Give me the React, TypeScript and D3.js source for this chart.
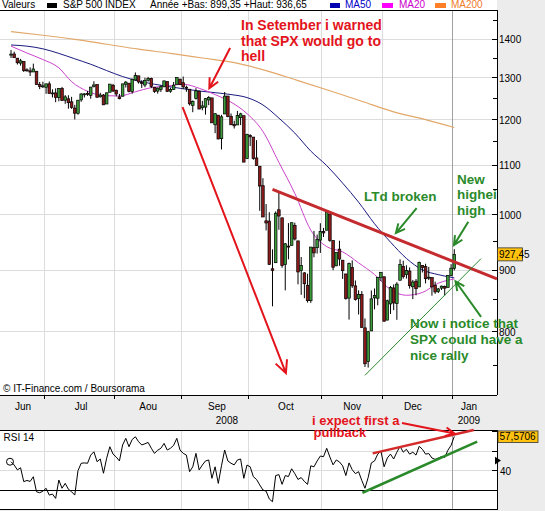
import React from 'react';
import * as d3 from 'd3';

// ---------- DATA (S&P 500 daily, 16 Jun 2008 .. 2 Jan 2009) ----------
const opens = [1358.5,1360.5,1349.6,1336.9,1341.0,1319.8,1317.2,1314.5,1316.3,1283.6,1278.1,1276.7,1285.0,1262.9,1262.9,1251.8,1273.4,1245.3,1248.7,1241.6,1226.8,1214.7,1246.3,1258.2,1261.8,1257.1,1278.9,1283.2,1253.5,1257.8,1236.4,1264.5,1281.4,1269.4,1253.3,1254.9,1284.0,1286.5,1266.3,1294.4,1304.8,1288.6,1282.1,1293.9,1298.1,1276.7,1267.3,1271.1,1277.6,1290.5,1267.0,1271.3,1283.8,1296.5,1287.8,1276.6,1271.8,1233.2,1249.5,1267.0,1227.5,1229.0,1245.9,1250.9,1188.3,1210.3,1157.1,1213.1,1255.4,1207.6,1188.8,1187.9,1204.5,1209.1,1113.8,1164.2,1160.6,1115.2,1097.6,1057.6,988.9,988.4,902.3,912.8,1010.0,994.6,909.5,942.3,943.5,980.4,951.7,899.1,895.2,874.3,848.9,939.5,939.4,953.1,968.7,971.3,1001.8,952.4,907.4,936.8,917.2,893.4,853.1,904.4,873.2,852.3,859.0,805.9,755.8,801.2,853.4,852.9,886.9,888.6,817.9,843.6,869.8,844.4,882.7,906.5,892.2,898.4,871.8,881.1,871.5,908.2,906.0,887.0,887.2,874.3,863.9,869.5,872.4,870.6,890.6,903.0];
const highs = [1370.6,1366.6,1349.6,1347.7,1341.0,1323.8,1326.0,1335.6,1316.3,1289.5,1290.3,1285.3,1290.7,1271.5,1273.9,1274.2,1277.4,1257.7,1257.3,1253.5,1234.4,1246.0,1262.3,1262.2,1267.7,1277.4,1291.2,1283.2,1263.2,1260.1,1263.2,1284.3,1284.9,1270.5,1260.5,1284.9,1291.7,1286.5,1297.9,1313.2,1304.8,1294.0,1300.1,1302.2,1300.2,1276.7,1276.0,1281.5,1293.1,1290.5,1275.7,1289.6,1300.7,1297.6,1303.0,1280.6,1271.8,1244.9,1274.4,1268.7,1243.9,1250.0,1255.1,1250.9,1214.8,1210.3,1211.1,1265.1,1255.4,1214.1,1197.4,1220.0,1215.8,1209.1,1168.0,1167.0,1160.6,1153.8,1097.6,1072.9,1021.1,1005.3,936.4,1006.9,1044.3,994.6,947.7,984.6,985.4,985.4,951.7,922.8,896.3,893.8,940.5,970.0,963.2,984.4,975.6,1007.5,1001.8,952.4,931.5,952.0,917.2,893.4,913.0,916.9,882.3,865.9,864.6,820.5,801.2,865.6,868.9,887.7,896.3,888.6,850.5,873.1,875.6,879.4,918.6,916.3,908.3,904.6,883.2,884.6,914.7,908.2,911.0,905.5,887.4,880.4,869.8,873.7,873.7,891.1,910.3,936.65];
const lows = [1350.1,1350.5,1333.4,1330.4,1314.5,1315.3,1304.4,1314.5,1283.1,1272.0,1274.9,1260.7,1261.5,1252.0,1240.7,1242.8,1244.6,1236.8,1225.4,1225.0,1200.4,1211.4,1241.5,1251.8,1255.7,1248.8,1276.1,1251.5,1251.8,1234.4,1236.4,1264.5,1265.1,1254.5,1247.5,1254.7,1276.0,1264.3,1261.1,1292.8,1285.6,1274.9,1276.8,1290.7,1274.5,1263.1,1261.2,1265.2,1277.6,1264.9,1263.2,1270.2,1283.8,1282.7,1272.2,1265.6,1232.8,1217.2,1247.1,1224.5,1221.6,1211.5,1233.8,1192.7,1169.3,1155.9,1133.5,1213.1,1205.6,1187.8,1179.8,1187.9,1187.5,1106.4,1113.8,1140.8,1111.4,1098.1,1008.0,996.2,971.0,909.2,839.8,912.8,972.1,904.0,865.8,918.7,943.5,952.5,875.8,858.4,852.9,845.8,845.3,922.3,928.9,930.0,958.8,971.3,949.9,899.7,906.9,907.5,884.9,850.5,818.7,869.9,849.0,826.8,806.2,747.8,747.0,801.2,835.0,841.4,881.2,815.7,817.9,827.6,833.6,818.4,882.7,885.4,885.5,868.7,851.4,857.7,871.5,895.9,877.4,883.0,857.1,860.1,861.4,866.5,857.1,870.6,889.4,899.35];
const closes = [1360.1,1350.9,1337.8,1342.8,1317.9,1318.0,1314.3,1322.0,1283.2,1278.4,1280.0,1284.9,1261.5,1262.9,1252.3,1273.7,1244.7,1253.4,1239.5,1228.3,1214.9,1245.4,1260.3,1260.7,1260.0,1277.0,1282.2,1252.5,1257.8,1234.4,1263.2,1284.3,1267.4,1260.3,1249.0,1284.9,1289.2,1266.1,1296.3,1305.3,1289.6,1285.8,1292.9,1298.2,1278.6,1266.7,1274.5,1277.7,1292.2,1266.8,1271.5,1281.7,1300.7,1282.8,1277.6,1275.0,1236.8,1242.3,1267.8,1224.5,1232.0,1249.1,1251.7,1192.7,1213.6,1156.4,1206.5,1255.1,1207.1,1188.2,1185.9,1209.2,1213.3,1106.4,1166.4,1161.1,1114.3,1099.2,1056.9,996.2,984.9,909.9,899.2,1003.4,998.0,907.8,946.4,940.6,985.4,955.1,896.8,908.1,876.8,848.9,940.5,930.1,954.1,968.8,966.3,1005.8,952.8,904.9,931.0,919.2,899.0,852.3,911.3,873.3,850.8,859.1,806.6,752.4,800.0,851.8,857.4,887.7,896.2,816.2,848.8,870.7,845.2,876.1,909.7,888.7,899.2,873.6,879.7,868.6,913.2,904.4,885.3,887.9,871.6,863.2,868.2,872.8,869.4,890.6,903.3,927.45];

const rsi14 = [44.6,42.9,40.4,41.5,34.4,35.0,34.5,36.9,29.2,28.7,29.5,31.0,27.5,28.0,25.8,35.2,31.0,33.5,30.5,29.2,27.5,40.0,43.8,44.0,43.8,48.0,49.7,44.6,46.0,38.7,46.4,52.3,48.5,47.0,45.0,53.2,56.6,52.3,56.0,57.4,54.9,53.2,53.8,54.5,51.5,48.9,50.5,51.5,54.0,50.6,51.5,53.0,56.6,50.6,48.9,48.0,39.5,42.0,48.9,40.4,42.9,45.0,45.5,36.1,42.0,33.5,42.5,50.6,45.0,43.8,43.0,45.5,46.0,36.1,42.9,42.0,36.9,35.5,32.7,30.1,29.5,25.5,24.1,37.5,38.0,33.0,37.5,37.0,41.0,38.5,35.5,36.5,34.5,33.0,42.5,42.0,45.0,47.5,47.2,51.5,47.0,43.0,45.5,44.5,42.5,37.5,44.0,40.5,38.5,39.5,35.0,31.0,36.5,44.0,45.0,48.5,50.0,42.0,46.5,48.5,46.0,49.5,52.5,49.5,51.0,48.5,49.5,48.0,52.5,51.0,48.5,48.8,46.5,45.8,46.5,47.2,46.8,50.5,53.0,57.5706];

// moving averages read at sample days (trading-day index)
const ma20Idx = [0,5,10,15,19,24,29,34,39,44,49,54,59,64,69,74,79,84,89,94,99,104,109,114,119,124,129,134,139];
const ma20Val = [1381,1363,1346,1325,1290.3,1266.9,1256.3,1255.5,1265.6,1275.8,1279.5,1284.0,1274.2,1258.9,1240.7,1214.0,1173.1,1105.9,1042.0,971.5,941.3,931.9,912.5,892.4,867.1,857.7,862.3,877.7,884.9];
const ma50Idx = [0,5,10,15,20,25,30,35,40,45,49,54,59,64,69,74,79,84,89,94,99,104,109,114,119,124,129,134,139];
const ma50Val = [1384,1381,1374,1362,1348,1334,1318,1303,1292,1284,1278.8,1272.9,1267.5,1263.5,1258.9,1251.7,1234.2,1203.6,1169.5,1130.0,1099.0,1062.8,1024.8,983.4,949.5,920.3,900.5,892.2,886.7];
const ma200Idx = [0,10,20,30,40,50,60,70,80,90,100,110,120,130,139];
const ma200Val = [1420,1410,1399,1386,1373,1362,1350,1338,1318,1293,1268,1243,1218,1200,1182];

// axis
const priceTicks = [800,900,1000,1100,1200,1300,1400];
const priceMinor = [750,850,950,1050,1150,1250,1350,1450];
const monthStartIdx = [11,33,54,75,98,117,139];
const monthLabels = ['Jun','Jul','Aou','Sep','Oct','Nov','Dec','Jan'];
const monthLabelIdx = [3.8,22,43,64.6,86.2,107,126,143.6];
const yearLabels = ['2008','2009'];
const yearLabelIdx = [67.7,143.6];
const rsiTicks = [60,50,40];

// trend lines drawn by the author (index, value)
const ltdLine = [[82,1050],[152.4,885]];
const supportLine = [[111,736],[147.4,920]];
const bigArrow = [[53.8,1229],[86.2,739]];
const warnArrow = [[68.7,1376],[62.2,1274]];
const ltdArrow = [[127.2,1013],[120.7,966]];
const newHighArrow = [[143.4,987],[138.9,944]];
const rallyArrow = [[147.4,823],[139.4,881]];
const rsiRedLine = [[113.4,48.9],[145.1,60.9]];
const rsiGreenLine = [[110.2,28.7],[146.2,54.9]];

const FONT = "'Liberation Sans', Arial, Helvetica, sans-serif";
const RED = '#e3141b';
const GREEN = '#2a8a2a';

function arrowPath(x1: number, y1: number, x2: number, y2: number, head = 10, ang = 0.45) {
  const a = Math.atan2(y2 - y1, x2 - x1);
  const p1 = [x2 - head * Math.cos(a - ang), y2 - head * Math.sin(a - ang)];
  const p2 = [x2 - head * Math.cos(a + ang), y2 - head * Math.sin(a + ang)];
  return `M${x1},${y1}L${x2},${y2}M${p1[0]},${p1[1]}L${x2},${y2}L${p2[0]},${p2[1]}`;
}

export default function App() {
  const W = 545, H = 511;
  const R = 497, PT = 10, PB = 395, RT = 430, RB = 509.5;
  const n = closes.length;
  const x = d3.scaleLinear().domain([0, n - 1]).range([11, 11 + (n - 1) * 3.189]);
  const y = d3.scaleLog().domain([800, 1400]).range([331.7, 39]);
  const yr = d3.scaleLinear().domain([20, 60]).range([509.7, 431.7]);

  const maLine = (idx: number[], val: number[]) =>
    d3.line<number>().x((_, i) => x(idx[i])).y((v) => y(v)).curve(d3.curveMonotoneX)(val) || '';
  const rsiPath = d3.line<number>().x((_, i) => x(i)).y((v) => yr(v))(rsi14) || '';
  const grid = monthStartIdx.map((m) => x(m - 0.5));
  const P = (p: number[]) => [x(p[0]), y(p[1])];
  const PR = (p: number[]) => [x(p[0]), yr(p[1])];
  const seg = (a: number[][], f: (p: number[]) => number[]) => {
    const s = f(a[0]), e = f(a[1]);
    return `M${s[0]},${s[1]}L${e[0]},${e[1]}`;
  };
  const arr = (a: number[][], head = 10) => {
    const s = P(a[0]), e = P(a[1]);
    return arrowPath(s[0], s[1], e[0], e[1], head);
  };

  const txt = { fontFamily: FONT, fontSize: 10, fill: '#000' } as const;
  const boldR = { fontFamily: FONT, fontSize: 14, fontWeight: 700, fill: RED } as const;
  const boldG = { fontFamily: FONT, fontSize: 13.5, fontWeight: 700, fill: GREEN } as const;

  return (
    <svg width={W} height={H} style={{ position: 'fixed', left: 0, top: 0, background: '#ececec' }}>
      <defs>
        <clipPath id="pclip"><rect x={0} y={PT} width={R} height={PB - PT} /></clipPath>
        <clipPath id="rclip"><rect x={0} y={RT} width={R} height={RB - RT} /></clipPath>
      </defs>
      <rect x={0} y={0} width={W} height={H} fill="#ececec" />
      <rect x={0} y={0} width={R} height={PB} fill="#fff" />
      <rect x={0} y={RT} width={R} height={RB - RT} fill="#fff" />

      {/* header */}
      <g style={txt}>
        <text x={2} y={8}>Valeurs</text>
        <rect x={47} y={3} width={10} height={5} fill="#000" />
        <text x={63} y={8}>S&amp;P 500 INDEX</text>
        <text x={150} y={8}>Année +Bas: 899,35 +Haut: 936,65</text>
        <rect x={330} y={3} width={10} height={5} fill="#0000b0" />
        <text x={345} y={8} fill="#0000c8">MA50</text>
        <rect x={382} y={3} width={11} height={5} fill="#ff00ff" />
        <text x={399} y={8} fill="#cc00cc">MA20</text>
        <rect x={435} y={3} width={11} height={5} fill="#ff7f27" />
        <text x={451} y={8} fill="#f07c2c">MA200</text>
      </g>

      {/* price grid */}
      <g stroke="#dcdcdc" strokeWidth={1} shapeRendering="crispEdges">
        {priceTicks.map((t) => <line key={t} x1={0} x2={R} y1={y(t)} y2={y(t)} />)}
        {grid.map((g, i) => (
          <line key={i} x1={g} x2={g} y1={PT} y2={PB} stroke={i === grid.length - 1 ? '#a0a0a0' : '#dcdcdc'} />
        ))}
      </g>

      {/* moving averages and candles */}
      <g clipPath="url(#pclip)">
        <path d={maLine(ma200Idx, ma200Val)} fill="none" stroke="#e2a86a" strokeWidth={1.2} />
        <path d={maLine(ma50Idx, ma50Val)} fill="none" stroke="#1a1a80" strokeWidth={1} />
        <path d={maLine(ma20Idx, ma20Val)} fill="none" stroke="#cc44cc" strokeWidth={1} />
        {closes.map((c, i) => {
          const o = opens[i];
          const up = c >= o;
          const top = y(Math.max(o, c));
          const bot = y(Math.min(o, c));
          return (
            <g key={i}>
              <line x1={x(i)} x2={x(i)} y1={y(highs[i])} y2={y(lows[i])} stroke="#000" strokeWidth={1} />
              <rect x={x(i) - 1.3} y={top} width={2.6} height={Math.max(1, bot - top)}
                fill={up ? '#3b9b3b' : '#8b1a1a'} stroke="#000" strokeWidth={0.7} />
            </g>
          );
        })}
      </g>

      {/* price axis */}
      <line x1={0} x2={R} y1={PT} y2={PT} stroke="#000" strokeWidth={1} shapeRendering="crispEdges" />
      <line x1={0} x2={R} y1={PB} y2={PB} stroke="#000" strokeWidth={1} shapeRendering="crispEdges" />
      <line x1={R} x2={R} y1={PT} y2={PB} stroke="#000" strokeWidth={1} shapeRendering="crispEdges" />
      <g stroke="#000" shapeRendering="crispEdges">
        {priceTicks.map((t) => <line key={t} x1={R - 5} x2={R} y1={y(t)} y2={y(t)} />)}
        {priceMinor.map((t) => <line key={t} x1={R - 4} x2={R} y1={y(t)} y2={y(t)} />)}
        {grid.map((g, i) => <line key={i} x1={g} x2={g} y1={PB} y2={PB + 4} />)}
      </g>
      <g style={txt}>
        {priceTicks.map((t) => <text key={t} x={R + 2} y={y(t) + 4}>{t}</text>)}
        {monthLabels.map((m, i) => <text key={m} x={x(monthLabelIdx[i])} y={410} textAnchor="middle">{m}</text>)}
        {yearLabels.map((m, i) => <text key={m} x={x(yearLabelIdx[i])} y={423.5} textAnchor="middle">{m}</text>)}
        <text x={3} y={392}>© IT-Finance.com / Boursorama</text>
      </g>
      <rect x={R + 0.5} y={y(closes[n - 1]) - 6.5} width={25} height={13} fill="#ffc20e" stroke="#333" strokeWidth={0.8} />
      <text x={R + 2} y={y(closes[n - 1]) + 3.5} style={txt}>{closes[n - 1].toFixed(2).replace('.', ',')}</text>

      {/* RSI panel */}
      <g stroke="#dcdcdc" shapeRendering="crispEdges">
        {[40, 50].map((t) => <line key={t} x1={0} x2={R} y1={yr(t)} y2={yr(t)} />)}
        {grid.map((g, i) => (
          <line key={i} x1={g} x2={g} y1={RT} y2={RB} stroke={i === grid.length - 1 ? '#a0a0a0' : '#dcdcdc'} />
        ))}
      </g>
      <line x1={0} x2={R} y1={yr(30)} y2={yr(30)} stroke="#000" strokeWidth={1} shapeRendering="crispEdges" />
      <g clipPath="url(#rclip)">
        <path d={rsiPath} fill="none" stroke="#000" strokeWidth={1} />
      </g>
      <circle cx={x(0) - 1} cy={yr(rsi14[0])} r={3.5} fill="none" stroke="#000" strokeWidth={1} />
      <line x1={0} x2={R} y1={RT} y2={RT} stroke="#000" shapeRendering="crispEdges" />
      <line x1={0} x2={R} y1={RB} y2={RB} stroke="#000" shapeRendering="crispEdges" />
      <line x1={R} x2={R} y1={RT} y2={RB} stroke="#000" shapeRendering="crispEdges" />
      <g stroke="#000" shapeRendering="crispEdges">
        {rsiTicks.map((t) => <line key={t} x1={R - 5} x2={R} y1={yr(t)} y2={yr(t)} />)}
      </g>
      <path d={`M${R - 2},${yr(47.2)}L${R + 4},${yr(45.2)}L${R - 2},${yr(43.2)}Z`} fill="#000" />
      <text x={R + 3} y={yr(40) + 4} style={txt}>40</text>
      <text x={3.5} y={441} style={txt}>RSI 14</text>
      <rect x={R + 1} y={yr(rsi14[n - 1]) - 5.5} width={40} height={11.5} fill="#ffc20e" stroke="#333" strokeWidth={0.8} />
      <text x={R + 2.5} y={yr(rsi14[n - 1]) + 4} style={txt}>{rsi14[n - 1].toFixed(4).replace('.', ',')}</text>

      {/* author annotations - price */}
      <path d={seg(ltdLine, P)} stroke="#c42a2e" strokeWidth={3} fill="none" />
      <path d={seg(supportLine, P)} stroke={GREEN} strokeWidth={1} fill="none" />
      <path d={arr(bigArrow, 14)} stroke={RED} strokeWidth={2} fill="none" />
      <path d={arr(warnArrow, 11)} stroke={RED} strokeWidth={2} fill="none" />
      <path d={arr(ltdArrow, 10)} stroke={GREEN} strokeWidth={2} fill="none" />
      <path d={arr(newHighArrow, 10)} stroke={GREEN} strokeWidth={2} fill="none" />
      <path d={arr(rallyArrow, 10)} stroke={GREEN} strokeWidth={2} fill="none" />
      <g style={boldR}>
        <text x={241} y={30}>In Setember i warned</text>
        <text x={241} y={45.5}>that SPX would go to</text>
        <text x={241} y={61}>hell</text>
      </g>
      <g style={boldG}>
        <text x={364} y={201}>LTd broken</text>
        <text x={457} y={183.5}>New</text>
        <text x={457} y={199}>highei</text>
        <text x={457} y={215}>high</text>
        <text x={410} y={328}>Now i notice that</text>
        <text x={410} y={344}>SPX could have a</text>
        <text x={410} y={360}>nice rally</text>
      </g>

      {/* author annotations - RSI */}
      <path d={seg(rsiRedLine, PR)} stroke="#d42a2a" strokeWidth={2.5} fill="none" />
      <path d={seg(rsiGreenLine, PR)} stroke={GREEN} strokeWidth={2.5} fill="none" />
      <path d={arrowPath(402, 423, 454.6, 433.5, 10)} stroke={RED} strokeWidth={2} fill="none" />
      <g style={{ ...boldR, fontSize: 13 }}>
        <text x={312} y={425}>i expect first a</text>
        <text x={313.5} y={437}>pullback</text>
      </g>
    </svg>
  );
}
